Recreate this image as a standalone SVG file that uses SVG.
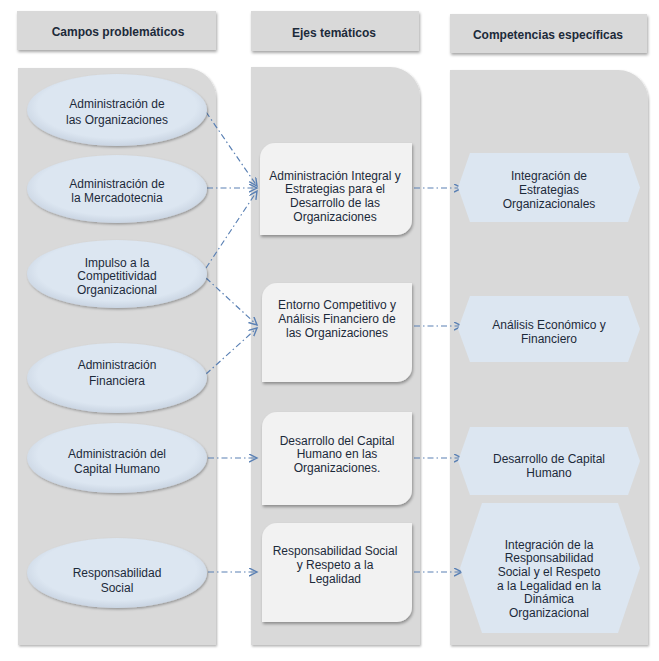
<svg xmlns="http://www.w3.org/2000/svg" width="659" height="661" viewBox="0 0 659 661">
<defs>
<filter id="sh" x="-10%" y="-10%" width="125%" height="130%">
<feDropShadow dx="1" dy="2" stdDeviation="1.5" flood-color="#000" flood-opacity="0.35"/>
</filter>
<filter id="shs" x="-10%" y="-10%" width="125%" height="130%">
<feDropShadow dx="1" dy="1.5" stdDeviation="1.2" flood-color="#000" flood-opacity="0.3"/>
</filter>
<marker id="arr" markerWidth="10" markerHeight="10" refX="8" refY="4" orient="auto" markerUnits="userSpaceOnUse">
<path d="M0,0 L8,4 L0,8" fill="none" stroke="#5a80b4" stroke-width="1.4"/>
</marker>
<radialGradient id="eg" cx="50%" cy="45%" r="55%">
<stop offset="0.8" stop-color="#dce6f1"/>
<stop offset="1" stop-color="#c9d4e2"/>
</radialGradient>
</defs>
<style>
text{font-family:"Liberation Sans",Arial,sans-serif;font-size:12px;fill:#1c2a3a;text-anchor:middle}
.hd{font-weight:bold}
.hdr{fill:#d9d9d9;filter:url(#sh)}
.col{fill:#d9d9d9;filter:url(#shs)}
.ell{fill:url(#eg);filter:url(#shs)}
.box{fill:#f2f2f2;filter:url(#sh)}
.hex{fill:#dce6f1}
.cn{fill:none;stroke:#5a80b4;stroke-width:1.2;stroke-dasharray:6 3 1.5 3;marker-end:url(#arr)}
</style>
<rect width="659" height="661" fill="#fff"/>
<g id="headers">
<g id="h-campos"><rect class="hdr" x="17" y="11" width="199" height="39"/><text class="hd" x="118" y="36">Campos problemáticos</text></g>
<g id="h-ejes"><rect class="hdr" x="251" y="11" width="168" height="40"/><text class="hd" x="334" y="37">Ejes temáticos</text></g>
<g id="h-comp"><rect class="hdr" x="450" y="14" width="197" height="39"/><text class="hd" x="548" y="39">Competencias específicas</text></g>
</g>
<g id="columns">
<path class="col" d="M18,68 H186 A30,30 0 0 1 216,98 V645 H18 Z"/>
<path class="col" d="M251,67 H390 A30,30 0 0 1 420,97 V645 H251 Z"/>
<path class="col" d="M450,70 H618 A30,30 0 0 1 648,100 V645 H450 Z"/>
</g>
<g id="connectors">
<line class="cn" x1="206" y1="112" x2="257" y2="186"/>
<line class="cn" x1="207" y1="188" x2="257" y2="188"/>
<line class="cn" x1="206" y1="268" x2="257" y2="191"/>
<line class="cn" x1="206" y1="278" x2="257" y2="325"/>
<line class="cn" x1="206" y1="374" x2="257" y2="328"/>
<line class="cn" x1="208" y1="458" x2="257" y2="458"/>
<line class="cn" x1="208" y1="572" x2="257" y2="572"/>
<line class="cn" x1="414" y1="188" x2="462" y2="188"/>
<line class="cn" x1="414" y1="326" x2="462" y2="326"/>
<line class="cn" x1="414" y1="458" x2="462" y2="458"/>
<line class="cn" x1="414" y1="572" x2="462" y2="572"/>
</g>
<g id="e1"><ellipse class="ell" cx="117" cy="110" rx="90" ry="36"/><text x="117" y="108">Administración de</text><text x="117" y="124">las Organizaciones</text></g>
<g id="e2"><ellipse class="ell" cx="117" cy="189" rx="90" ry="34"/><text x="117" y="188">Administración de</text><text x="117" y="202">la Mercadotecnia</text></g>
<g id="e3"><ellipse class="ell" cx="117" cy="274" rx="90" ry="34"/><text x="117" y="267">Impulso a la</text><text x="117" y="280">Competitividad</text><text x="117" y="294">Organizacional</text></g>
<g id="e4"><ellipse class="ell" cx="117" cy="378" rx="90" ry="35"/><text x="117" y="369">Administración</text><text x="117" y="385">Financiera</text></g>
<g id="e5"><ellipse class="ell" cx="117" cy="458" rx="90" ry="35"/><text x="117" y="458">Administración del</text><text x="117" y="473">Capital Humano</text></g>
<g id="e6"><ellipse class="ell" cx="117" cy="573" rx="90" ry="35"/><text x="117" y="577">Responsabilidad</text><text x="117" y="592">Social</text></g>
<g id="b1"><path class="box" d="M275,143 H412 V220 A15,15 0 0 1 397,235 H260 V158 A15,15 0 0 1 275,143 Z"/><text x="335" y="180">Administración Integral y</text><text x="335" y="193">Estrategias para el</text><text x="335" y="207">Desarrollo de las</text><text x="335" y="221">Organizaciones</text></g>
<g id="b2"><path class="box" d="M277,283 H412 V367 A15,15 0 0 1 397,382 H262 V298 A15,15 0 0 1 277,283 Z"/><text x="337" y="309">Entorno Competitivo y</text><text x="337" y="323">Análisis Financiero de</text><text x="337" y="337">las Organizaciones</text></g>
<g id="b3"><path class="box" d="M277,412 H412 V490 A15,15 0 0 1 397,505 H262 V427 A15,15 0 0 1 277,412 Z"/><text x="337" y="445">Desarrollo del Capital</text><text x="337" y="458">Humano en las</text><text x="337" y="472">Organizaciones.</text></g>
<g id="b4"><path class="box" d="M277,523 H412 V607 A15,15 0 0 1 397,622 H262 V538 A15,15 0 0 1 277,523 Z"/><text x="335" y="555">Responsabilidad Social</text><text x="335" y="569">y Respeto a la</text><text x="335" y="583">Legalidad</text></g>
<g id="c1"><path class="hex" d="M458,187.5 L470,153 L628,153 L640,187.5 L628,222 L470,222 Z"/><text x="549" y="180">Integración de</text><text x="549" y="194">Estrategias</text><text x="549" y="208">Organizacionales</text></g>
<g id="c2"><path class="hex" d="M458,329 L470,296 L628,296 L640,329 L628,362 L470,362 Z"/><text x="549" y="329">Análisis Económico y</text><text x="549" y="343">Financiero</text></g>
<g id="c3"><path class="hex" d="M458,461 L470,427 L628,427 L640,461 L628,495 L470,495 Z"/><text x="549" y="463">Desarrollo de Capital</text><text x="549" y="477">Humano</text></g>
<g id="c4"><path class="hex" d="M460,568 L482,503 L618,503 L640,568 L618,633 L482,633 Z"/><text x="549" y="549">Integración de la</text><text x="549" y="562">Responsabilidad</text><text x="549" y="576">Social y el Respeto</text><text x="549" y="590">a la Legalidad en la</text><text x="549" y="603">Dinámica</text><text x="549" y="617">Organizacional</text></g>
</svg>
